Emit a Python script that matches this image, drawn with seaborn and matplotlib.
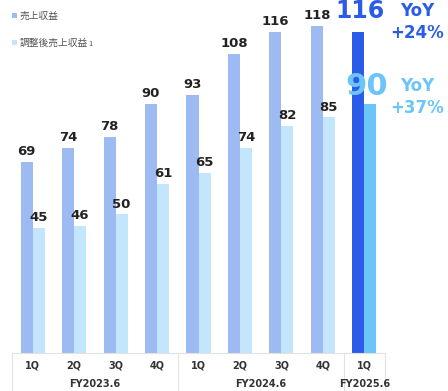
import matplotlib
matplotlib.use("Agg")
import matplotlib.pyplot as plt
import seaborn as sns
import pandas as pd
from matplotlib.patches import Rectangle
from matplotlib.lines import Line2D

# ---- data ----
quarters = ["1Q", "2Q", "3Q", "4Q", "1Q", "2Q", "3Q", "4Q", "1Q"]
fiscal_years = ["FY2023.6", "FY2024.6", "FY2025.6"]
fy_of_quarter = [0, 0, 0, 0, 1, 1, 1, 1, 2]
revenue = [69, 74, 78, 90, 93, 108, 116, 118, 116]
adj_revenue = [45, 46, 50, 61, 65, 74, 82, 85, 90]
series_names = ["売上収益", "調整後売上収益"]
yoy_revenue = "YoY\n+24%"
yoy_adj = "YoY\n+37%"

# ---- colours ----
c_rev = "#9dbaf2"
c_adj = "#c4e6fc"
c_rev_hi = "#2b5ce8"
c_adj_hi = "#6cc5f8"
c_text = "#222222"
c_line = "#e2e2e2"

periods = [f"{fiscal_years[f]} {q}" for q, f in zip(quarters, fy_of_quarter)]
df = pd.DataFrame({
    "period": periods * 2,
    "value": revenue + adj_revenue,
    "series": [series_names[0]] * len(revenue) + [series_names[1]] * len(adj_revenue),
})

sns.set_theme(style="white")
plt.rcParams["font.family"] = ["DejaVu Sans", "Noto Sans CJK JP"]

W, H = 448, 391
fig = plt.figure(figsize=(W / 100, H / 100), dpi=100)
ax_left, ax_right, ax_bottom = 12, 385, 38
ax = fig.add_axes([ax_left / W, ax_bottom / H, (ax_right - ax_left) / W, (H - ax_bottom) / H])

sns.barplot(data=df, x="period", y="value", hue="series", order=periods,
            palette=[c_rev, c_adj], width=0.58, gap=0, dodge=True,
            legend=False, ax=ax, saturation=1)

ax.set_xlim(-0.5, len(periods) - 0.5)
ax.set_ylim(0, 127.4)
for s in ax.spines.values():
    s.set_visible(False)
ax.set_ylabel("")
ax.set_xlabel("")
ax.set_yticks([])
ax.set_xticks([])

rev_bars = ax.containers[0]
adj_bars = ax.containers[1]
last = len(periods) - 1
rev_bars[last].set_facecolor(c_rev_hi)
adj_bars[last].set_facecolor(c_adj_hi)
for b in list(rev_bars) + list(adj_bars):
    b.set_edgecolor("none")

# value labels
for i, (b, v) in enumerate(zip(rev_bars, revenue)):
    cx = b.get_x() + b.get_width() / 2
    if i == last:
        ax.annotate(str(v), (cx + 0.05, v), xytext=(0, 9.5), textcoords="offset points",
                    ha="center", va="baseline", fontsize=17, fontweight="bold",
                    color=c_rev_hi, annotation_clip=False)
    else:
        ax.annotate(str(v), (cx, v), xytext=(0, 5), textcoords="offset points",
                    ha="center", va="baseline", fontsize=9.5, fontweight="bold",
                    color=c_text)
for i, (b, v) in enumerate(zip(adj_bars, adj_revenue)):
    cx = b.get_x() + b.get_width() / 2
    if i == last:
        ax.annotate(str(v), (cx - 0.08, v), xytext=(0, 6), textcoords="offset points",
                    ha="center", va="baseline", fontsize=22, fontweight="bold",
                    color=c_adj_hi, annotation_clip=False)
    else:
        ax.annotate(str(v), (cx, v), xytext=(0, 5), textcoords="offset points",
                    ha="center", va="baseline", fontsize=9.5, fontweight="bold",
                    color=c_text)

# YoY texts
fig.text(417 / W, 1 - 22 / H, yoy_revenue, ha="center", va="center", fontsize=12,
         fontweight="bold", color=c_rev_hi, linespacing=1.25)
fig.text(417 / W, 1 - 97 / H, yoy_adj, ha="center", va="center", fontsize=12,
         fontweight="bold", color=c_adj_hi, linespacing=1.25)

# category table below
tr = ax.get_xaxis_transform()
ax.add_line(Line2D([-0.5, last + 0.5], [0, 0], transform=tr, color=c_line, lw=0.8, clip_on=False))
for xb in [-0.5, 3.5, 7.5, 8.5]:
    ax.add_line(Line2D([xb, xb], [0, -40 / 353], transform=tr, color=c_line, lw=0.8, clip_on=False))
for i, q in enumerate(quarters):
    ax.text(i, -13 / 353, q, transform=tr, ha="center", va="center", fontsize=7,
            fontweight="bold", color="#333333")
for f, name in enumerate(fiscal_years):
    idx = [i for i, g in enumerate(fy_of_quarter) if g == f]
    ax.text(sum(idx) / len(idx), -31 / 353, name, transform=tr, ha="center", va="center",
            fontsize=7, fontweight="bold", color="#333333")

# legend
fig.patches.append(Rectangle((12 / W, 1 - 18 / H), 5 / W, 5 / H, transform=fig.transFigure,
                             facecolor=c_rev, edgecolor="none"))
fig.patches.append(Rectangle((12 / W, 1 - 45 / H), 5 / W, 5 / H, transform=fig.transFigure,
                             facecolor=c_adj, edgecolor="none"))
jp = ["Noto Sans CJK JP", "DejaVu Sans"]
fig.text(20 / W, 1 - 15.5 / H, series_names[0], ha="left", va="center", fontsize=7,
         color="#555555", family=jp)
t2 = fig.text(20 / W, 1 - 42.5 / H, series_names[1], ha="left", va="center", fontsize=7,
              color="#555555", family=jp)
fig.canvas.draw()
bb = t2.get_window_extent()
fig.text(bb.x1 / W + 0.5 / W, 1 - 44 / H, "1", ha="left", va="center", fontsize=5.5,
         color="#555555", family=jp)

fig.savefig("out.png", dpi=100)
